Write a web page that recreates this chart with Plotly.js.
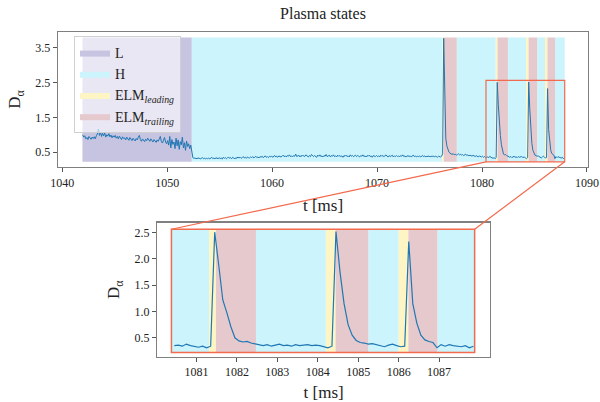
<!DOCTYPE html>
<html><head><meta charset="utf-8">
<script src="https://cdn.plot.ly/plotly-3.0.1.min.js"></script>
<style>html,body{margin:0;padding:0;background:#fff}</style>
</head><body><div id="chart" style="width:600px;height:402px"></div>
<script>
// sampling of the D_alpha signal
const t0 = 1041.95, dt = 0.1;
// D_alpha values, one row per ms
const dAlpha = [
1.00,0.93,0.97,0.88,0.92,0.86,0.95,0.90,0.87,0.93,
0.89,0.94,0.88,0.97,1.02,1.16,0.98,1.08,0.95,1.04,
0.97,1.05,0.93,1.00,0.96,1.03,0.94,0.99,0.91,0.97,
0.93,0.98,0.90,0.95,0.88,0.96,0.92,0.86,0.94,0.89,
0.91,0.85,0.93,0.88,0.84,0.92,0.87,0.83,0.90,0.86,
0.82,0.89,0.85,0.93,0.98,0.86,0.81,0.88,0.84,0.80,
0.87,0.83,0.90,0.85,0.81,0.88,0.84,0.79,0.86,0.82,
0.78,0.85,0.81,0.88,0.95,0.80,0.76,0.84,0.92,0.79,
0.74,0.83,0.70,0.95,0.62,0.86,0.72,0.79,0.60,0.90,
0.68,0.85,0.58,0.80,0.71,0.93,0.62,0.77,0.55,0.82,
0.66,0.74,0.60,0.70,0.42,0.34,0.32,0.33,0.31,0.32,
0.31,0.33,0.30,0.32,0.34,0.31,0.33,0.30,0.32,0.31,
0.33,0.30,0.32,0.35,0.31,0.33,0.30,0.34,0.32,0.31,
0.34,0.31,0.33,0.30,0.35,0.32,0.34,0.31,0.33,0.36,
0.32,0.34,0.31,0.35,0.33,0.30,0.34,0.32,0.36,0.33,
0.35,0.32,0.34,0.37,0.33,0.35,0.32,0.36,0.34,0.33,
0.36,0.34,0.37,0.33,0.35,0.38,0.34,0.36,0.33,0.37,
0.35,0.38,0.34,0.36,0.39,0.35,0.37,0.34,0.38,0.36,
0.39,0.35,0.37,0.40,0.36,0.38,0.35,0.39,0.37,0.36,
0.38,0.41,0.37,0.39,0.36,0.40,0.38,0.42,0.37,0.39,
0.36,0.40,0.38,0.44,0.37,0.39,0.41,0.36,0.40,0.38,
0.41,0.37,0.39,0.42,0.38,0.36,0.40,0.37,0.43,0.39,
0.37,0.40,0.38,0.35,0.41,0.38,0.42,0.37,0.39,0.36,
0.40,0.38,0.43,0.37,0.39,0.41,0.36,0.40,0.38,0.42,
0.37,0.39,0.36,0.41,0.38,0.40,0.37,0.39,0.35,0.40,
0.38,0.41,0.37,0.39,0.36,0.42,0.38,0.40,0.37,0.39,
0.41,0.37,0.40,0.38,0.36,0.40,0.38,0.42,0.37,0.39,
0.36,0.40,0.38,0.41,0.37,0.39,0.35,0.40,0.38,0.37,
0.40,0.37,0.39,0.36,0.41,0.38,0.40,0.37,0.39,0.42,
0.38,0.36,0.40,0.37,0.39,0.41,0.36,0.39,0.37,0.40,
0.37,0.39,0.36,0.40,0.38,0.42,0.37,0.39,0.36,0.38,
0.40,0.37,0.39,0.36,0.38,0.41,0.37,0.39,0.36,0.38,
0.37,0.39,0.36,0.38,0.40,0.37,0.39,0.36,0.38,0.37,
0.39,0.36,0.38,0.37,0.39,0.36,0.38,0.37,0.35,0.38,
0.37,0.36,0.38,0.45,3.78,1.60,0.90,0.68,0.56,0.50,
0.47,0.45,0.43,0.46,0.42,0.44,0.41,0.43,0.45,0.42,
0.44,0.41,0.43,0.40,0.42,0.44,0.40,0.42,0.39,0.41,
0.40,0.38,0.41,0.39,0.37,0.40,0.38,0.36,0.39,0.37,
0.36,0.38,0.35,0.37,0.34,0.35,0.36,0.34,0.38,0.35,
0.34,0.32,0.34,0.31,0.34,2.51,1.88,1.22,0.98,0.71,
0.50,0.44,0.42,0.43,0.40,0.38,0.37,0.35,0.37,0.34,
0.36,0.38,0.35,0.36,0.34,0.37,0.35,0.36,0.37,0.35,
0.36,0.35,0.33,0.31,0.34,2.52,1.75,1.15,0.75,0.55,
0.45,0.41,0.40,0.38,0.39,0.37,0.36,0.33,0.36,0.38,
0.35,0.33,0.34,2.33,1.15,0.78,0.55,0.46,0.43,0.41,
0.31,0.37,0.34,0.37,0.35,0.34,0.33,0.35,0.31,0.34
];
const tms = dAlpha.map((_, i) => Math.round((t0 + i * dt) * 100) / 100);

// plasma state intervals [start, end] in ms
const stateNames = ['L', 'H', 'ELM<sub><i>leading</i></sub>', 'ELM<sub><i>trailing</i></sub>'];
const intervalsL = [[1041.93, 1052.35]];
const intervalsH = [[1052.35, 1076.20], [1077.60, 1081.31], [1082.47, 1084.20], [1085.25, 1086.00], [1086.96, 1087.88]];
const intervalsLeading = [[1076.20, 1076.35], [1081.31, 1081.48], [1084.20, 1084.44], [1086.00, 1086.24]];
const intervalsTrailing = [[1076.35, 1077.60], [1081.48, 1082.47], [1084.44, 1085.25], [1086.24, 1086.96]];
const stateColors = ['#c7c4e1', '#ccf4fc', '#fdf6c4', '#e5c9cc'];

// zoom window [t0, t1, D0, D1]
const zoomBox = [1080.38, 1087.88, 0.22, 2.565];
const mainBand = [0.22, 3.80];

const xTicksMain = [1040, 1050, 1060, 1070, 1080, 1090];
const yTicksMain = [0.5, 1.5, 2.5, 3.5];
const xTicksZoom = [1081, 1082, 1083, 1084, 1085, 1086, 1087];
const yTicksZoom = [0.5, 1.0, 1.5, 2.0, 2.5];

const W = 600, H = 402;
const xDomMain = [58 / W, 588 / W], yDomMain = [1 - 167 / H, 1 - 32 / H];
const xDomZoom = [157.3 / W, 490 / W], yDomZoom = [1 - 356.7 / H, 1 - 222.7 / H];
const xRangeMain = [1039.6, 1090.1], yRangeMain = [0.07, 3.96];
const xRangeZoom = [1080.03, 1088.26], yRangeZoom = [0.14, 2.69];

function rects(intervals, y0, y1, clip) {
  const xs = [], ys = [];
  intervals.forEach(([a, b]) => {
    if (clip) { a = Math.max(a, clip[0]); b = Math.min(b, clip[1]); if (b <= a) return; }
    xs.push(a, b, b, a, a, null);
    ys.push(y0, y0, y1, y1, y0, null);
  });
  return { xs, ys };
}

const allIntervals = [intervalsL, intervalsH, intervalsLeading, intervalsTrailing];
const traces = [];
allIntervals.forEach((iv, k) => {
  const r = rects(iv, mainBand[0], mainBand[1]);
  traces.push({ x: r.xs, y: r.ys, type: 'scatter', mode: 'lines', fill: 'toself',
    fillcolor: stateColors[k], line: { width: 0, color: stateColors[k] }, name: stateNames[k],
    hoverinfo: 'skip', xaxis: 'x', yaxis: 'y', legendgroup: 's' + k });
});
traces.push({ x: tms, y: dAlpha, type: 'scatter', mode: 'lines', line: { color: '#1f77b4', width: 1 },
  showlegend: false, xaxis: 'x', yaxis: 'y' });
allIntervals.forEach((iv, k) => {
  const r = rects(iv, zoomBox[2], zoomBox[3], [zoomBox[0], zoomBox[1]]);
  traces.push({ x: r.xs, y: r.ys, type: 'scatter', mode: 'lines', fill: 'toself',
    fillcolor: stateColors[k], line: { width: 0, color: stateColors[k] }, showlegend: false,
    hoverinfo: 'skip', xaxis: 'x2', yaxis: 'y2' });
});
const zt = [], zd = [];
tms.forEach((t, i) => { if (t >= zoomBox[0] && t <= zoomBox[1]) { zt.push(t); zd.push(dAlpha[i]); } });
traces.push({ x: zt, y: zd, type: 'scatter', mode: 'lines', line: { color: '#1f77b4', width: 1.2 },
  showlegend: false, xaxis: 'x2', yaxis: 'y2' });

function toPaper(dom, rng, v) { return dom[0] + (v - rng[0]) / (rng[1] - rng[0]) * (dom[1] - dom[0]); }
const boxColor = '#f36a4c';
const shapes = [
  { type: 'rect', xref: 'x', yref: 'y', x0: zoomBox[0], x1: zoomBox[1], y0: zoomBox[2], y1: zoomBox[3],
    line: { color: boxColor, width: 1.2 }, layer: 'above' },
  { type: 'rect', xref: 'x2', yref: 'y2', x0: zoomBox[0], x1: zoomBox[1], y0: zoomBox[2], y1: zoomBox[3],
    line: { color: boxColor, width: 1.5 }, layer: 'above' },
  { type: 'line', xref: 'paper', yref: 'paper',
    x0: toPaper(xDomMain, xRangeMain, zoomBox[0]), y0: toPaper(yDomMain, yRangeMain, zoomBox[2]),
    x1: toPaper(xDomZoom, xRangeZoom, zoomBox[0]), y1: toPaper(yDomZoom, yRangeZoom, zoomBox[3]),
    line: { color: boxColor, width: 1.2 }, layer: 'above' },
  { type: 'line', xref: 'paper', yref: 'paper',
    x0: toPaper(xDomMain, xRangeMain, zoomBox[1]), y0: toPaper(yDomMain, yRangeMain, zoomBox[2]),
    x1: toPaper(xDomZoom, xRangeZoom, zoomBox[1]), y1: toPaper(yDomZoom, yRangeZoom, zoomBox[3]),
    line: { color: boxColor, width: 1.2 }, layer: 'above' }
];

const serif = 'Liberation Serif, DejaVu Serif, serif';
const axisCommon = { showgrid: false, zeroline: false, showline: true, mirror: true, linecolor: '#808080',
  linewidth: 1.3, ticks: 'outside', ticklen: 4, tickcolor: '#555', tickwidth: 1,
  tickfont: { family: serif, size: 12, color: '#222' } };

const layout = {
  width: W, height: H, margin: { l: 0, r: 0, t: 0, b: 0 },
  paper_bgcolor: '#fff', plot_bgcolor: '#fff',
  font: { family: serif, color: '#222' },
  title: { text: 'Plasma states', x: 323 / W, y: 1 - 13 / H, xanchor: 'center', yanchor: 'middle',
    font: { family: serif, size: 16, color: '#222' } },
  showlegend: true,
  legend: { x: 74 / W, y: 1 - 36 / H, xanchor: 'left', yanchor: 'top', bgcolor: 'rgba(255,255,255,0.6)',
    bordercolor: '#d0d0d0', borderwidth: 1, font: { family: serif, size: 14, color: '#222' },
    tracegroupgap: 0, itemwidth: 30 },
  xaxis: Object.assign({}, axisCommon, { domain: xDomMain, range: xRangeMain, tickvals: xTicksMain,
    anchor: 'y', title: { text: 't [ms]', font: { family: serif, size: 17 }, standoff: 10 } }),
  yaxis: Object.assign({}, axisCommon, { domain: yDomMain, range: yRangeMain, tickvals: yTicksMain,
    anchor: 'x', title: { text: 'D<sub>α</sub>', font: { family: serif, size: 17 }, standoff: 10 } }),
  xaxis2: Object.assign({}, axisCommon, { domain: xDomZoom, range: xRangeZoom, tickvals: xTicksZoom,
    anchor: 'y2', title: { text: 't [ms]', font: { family: serif, size: 17 }, standoff: 8 } }),
  yaxis2: Object.assign({}, axisCommon, { domain: yDomZoom, range: yRangeZoom, tickvals: yTicksZoom,
    tickformat: '.1f', anchor: 'x2', title: { text: 'D<sub>α</sub>', font: { family: serif, size: 17 }, standoff: 10 } }),
  shapes: shapes
};

Plotly.newPlot('chart', traces, layout, { displayModeBar: false, staticPlot: true });
</script></body></html>
